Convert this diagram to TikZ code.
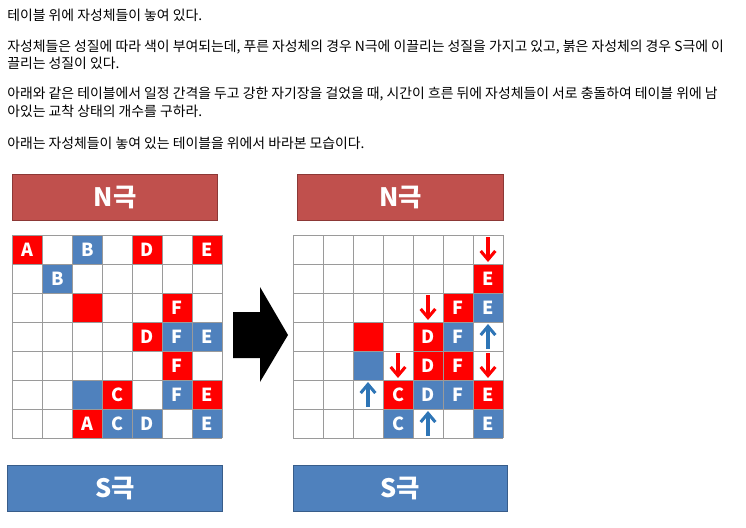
\documentclass[tikz,border=0pt]{standalone}
\usepackage{fontspec}
\setmainfont{Noto Sans CJK KR}
\usetikzlibrary{arrows.meta}
\definecolor{MagRed}{HTML}{FF0000}
\definecolor{MagBlue}{HTML}{4F81BD}
\definecolor{PullBlue}{HTML}{2E75B6}
\definecolor{PoleRed}{HTML}{C0504D}
\definecolor{PoleRedLine}{HTML}{8C3836}
\definecolor{PoleBlue}{HTML}{4F81BD}
\definecolor{PoleBlueLine}{HTML}{385D8A}
\definecolor{GridLine}{HTML}{9A9A9A}

\begin{document}
\begin{tikzpicture}[x=0.75pt,y=-0.75pt]
    \tikzset{line/.style={anchor=west,inner sep=0pt,font=\fontsize{10.4}{10.4}\selectfont},
      cell/.style={anchor=north west,minimum width=22.5pt,minimum height=21.75pt,inner sep=0pt,text=white,font=\fontsize{13.5}{13.5}\selectfont\bfseries},
      pole/.style={anchor=north west,minimum height=34.5pt,inner sep=0pt,text=white,line width=0.8pt,font=\fontsize{19}{19}\selectfont\bfseries},
      magarrow/.style={line width=2.3pt,-{Straight Barb[length=6.5pt,width=11pt]}}}
    \useasboundingbox (0,0) rectangle (746,528);
    % problem text
    \node[line] (t1) at (7,15) {테이블 위에 자성체들이 놓여 있다.};
    \node[line] (t2) at (7,47) {자성체들은 성질에 따라 색이 부여되는데, 푸른 자성체의 경우 N극에 이끌리는 성질을 가지고 있고, 붉은 자성체의 경우 S극에 이};
    \node[line] (t3) at (7,63) {끌리는 성질이 있다.};
    \node[line] (t4) at (7,94) {아래와 같은 테이블에서 일정 간격을 두고 강한 자기장을 걸었을 때, 시간이 흐른 뒤에 자성체들이 서로 충돌하여 테이블 위에 남};
    \node[line] (t5) at (7,111) {아있는 교착 상태의 개수를 구하라.};
    \node[line] (t6) at (7,143) {아래는 자성체들이 놓여 있는 테이블을 위에서 바라본 모습이다.};
    % poles
    \node[pole,fill=PoleRed,draw=PoleRedLine,minimum width=153.75pt] (nL) at (12,174) {N극};
    \node[pole,fill=PoleRed,draw=PoleRedLine,minimum width=154.5pt] (nR) at (297,174) {N극};
    \node[pole,fill=PoleBlue,draw=PoleBlueLine,minimum width=161.25pt] (sL) at (7,465) {S극};
    \node[pole,fill=PoleBlue,draw=PoleBlueLine,minimum width=160.5pt] (sR) at (293,465) {S극};
    % before
    \foreach \c/\r/\col/\t in {0/0/MagRed/A,2/0/MagBlue/B,4/0/MagRed/D,6/0/MagRed/E,
        1/1/MagBlue/B,2/2/MagRed/{},5/2/MagRed/F,4/3/MagRed/D,5/3/MagBlue/F,6/3/MagBlue/E,
        5/4/MagRed/F,2/5/MagBlue/{},3/5/MagRed/C,5/5/MagBlue/F,6/5/MagRed/E,
        2/6/MagRed/A,3/6/MagBlue/C,4/6/MagBlue/D,6/6/MagBlue/E}
      \node[cell,fill=\col] (l\c\r) at ({12+30*\c},{235+29*\r}) {\t};
    % after
    \foreach \c/\r/\col/\t in {6/1/MagRed/E,5/2/MagRed/F,6/2/MagBlue/E,
        2/3/MagRed/{},4/3/MagRed/D,5/3/MagBlue/F,2/4/MagBlue/{},4/4/MagRed/D,5/4/MagRed/F,
        3/5/MagRed/C,4/5/MagBlue/D,5/5/MagBlue/F,6/5/MagRed/E,3/6/MagBlue/C,6/6/MagBlue/E}
      \node[cell,fill=\col] (r\c\r) at ({293+30*\c},{235+29*\r}) {\t};
    % grids
    \foreach \gx in {12,293} {
      \foreach \i in {0,...,7}
        \draw[GridLine,line width=0.6pt] ({\gx+30*\i},235) -- ({\gx+30*\i},438);
      \foreach \j in {0,...,7}
        \draw[GridLine,line width=0.6pt] (\gx,{235+29*\j}) -- ({\gx+210},{235+29*\j});
    }
    % movement
    \foreach \c/\r in {6/0,4/2,3/4,6/4}
      \draw[magarrow,MagRed] ({293+30*\c+15},{235+29*\r+2}) -- ({293+30*\c+15},{235+29*\r+27});
    \foreach \c/\r in {6/3,2/5,4/6}
      \draw[magarrow,PullBlue] ({293+30*\c+15},{235+29*\r+27}) -- ({293+30*\c+15},{235+29*\r+2});
    % big arrow
    \fill[black] (233,312) -- (260,312) -- (260,287) -- (288,335) -- (260,382) -- (260,358) -- (233,358) -- cycle;
\end{tikzpicture}
\end{document}
